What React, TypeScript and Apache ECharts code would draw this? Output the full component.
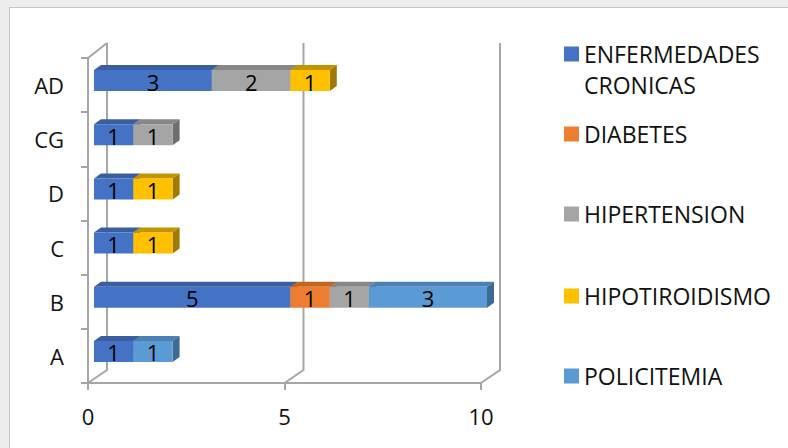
import React, { useEffect, useRef } from 'react';
import * as echarts from 'echarts';

// ---- data ----
const categories = ['A', 'B', 'C', 'D', 'CG', 'AD'];
const seriesNames = ['ENFERMEDADES CRONICAS', 'DIABETES', 'HIPERTENSION', 'HIPOTIROIDISMO', 'POLICITEMIA'];
const enfermedadesCronicas = [1, 5, 1, 1, 1, 3];
const diabetes = [0, 1, 0, 0, 0, 0];
const hipertension = [0, 1, 0, 0, 1, 2];
const hipotiroidismo = [0, 0, 1, 1, 0, 1];
const policitemia = [1, 3, 0, 0, 0, 0];
const xTicks = [0, 5, 10];

const seriesValues = [enfermedadesCronicas, diabetes, hipertension, hipotiroidismo, policitemia];
const frontColors = ['#4472C4', '#ED7D31', '#A5A5A5', '#FFC000', '#5B9BD5'];
const topColors = ['#3A5E9F', '#C2661F', '#878787', '#C49400', '#4A80B2'];
const sideColors = ['#2F4E86', '#A3561C', '#6E6E6E', '#A07A00', '#3D6A93'];

const FONT = "'Open Sans', 'Liberation Sans', sans-serif";
const TEXT = '#111111';
const GRID_COLOR = '#A6A6A6';

// 3D geometry (pixels)
const BACK_DX = 19;
const BACK_DY_BOTTOM = -13;
const BACK_DY_TOP = -15;
const BAR_OX = 6;
const BAR_OY = -4.5;
const BAR_DX = 7;
const BAR_DY = -5;
const BAR_W = 21;

export default function App() {
  const ref = useRef<HTMLDivElement>(null);

  useEffect(() => {
    if (!ref.current) return;
    const chart = echarts.init(ref.current, null, { renderer: 'svg' });

    // stacked bases
    const bases = categories.map(() => 0);
    const barSeries = seriesValues.map((vals, si) => {
      const data: number[][] = [];
      vals.forEach((v, ci) => {
        if (v > 0) {
          data.push([bases[ci], bases[ci] + v, ci, v]);
          bases[ci] += v;
        }
      });
      return {
        type: 'custom',
        name: seriesNames[si],
        z: 5,
        itemStyle: { color: frontColors[si] },
        encode: { x: [0, 1], y: 2 },
        data,
        renderItem: (params: any, api: any) => {
          const start = api.value(0);
          const end = api.value(1);
          const cat = api.value(2);
          const val = api.value(3);
          const p0 = api.coord([start, cat]);
          const p1 = api.coord([end, cat]);
          const x0 = p0[0] + BAR_OX;
          const x1 = p1[0] + BAR_OX;
          const yc = p0[1] + BAR_OY;
          const yt = yc - BAR_W / 2;
          const yb = yc + BAR_W / 2;
          return {
            type: 'group',
            children: [
              {
                type: 'polygon',
                shape: { points: [[x0, yt], [x0 + BAR_DX, yt + BAR_DY], [x1 + BAR_DX, yt + BAR_DY], [x1, yt]] },
                style: { fill: topColors[si] },
              },
              {
                type: 'polygon',
                shape: { points: [[x1, yt], [x1 + BAR_DX, yt + BAR_DY], [x1 + BAR_DX, yb + BAR_DY], [x1, yb]] },
                style: { fill: sideColors[si] },
              },
              {
                type: 'rect',
                shape: { x: x0, y: yt, width: x1 - x0, height: BAR_W },
                style: { fill: frontColors[si] },
              },
              {
                type: 'text',
                style: {
                  text: String(val),
                  x: (x0 + x1) / 2,
                  y: yc + 1,
                  align: 'center',
                  verticalAlign: 'middle',
                  fill: '#000000',
                  fontSize: 22,
                  fontFamily: FONT,
                },
              },
            ],
          };
        },
      };
    });

    const gridSeries = {
      type: 'custom',
      name: 'grid3d',
      z: 1,
      silent: true,
      encode: { x: 0 },
      data: xTicks.map((t) => [t]),
      renderItem: (params: any, api: any) => {
        const t = api.value(0);
        const cs = params.coordSys;
        const x = api.coord([t, 0])[0];
        const bottom = cs.y + cs.height;
        const top = cs.y;
        const children: any[] = [
          {
            type: 'polyline',
            shape: {
              points: [
                [x, bottom],
                [x + BACK_DX, bottom + BACK_DY_BOTTOM],
                [x + BACK_DX, top + BACK_DY_TOP],
              ],
            },
            style: { stroke: GRID_COLOR, lineWidth: 2, fill: null },
          },
        ];
        if (t === xTicks[0]) {
          children.push({
            type: 'line',
            shape: { x1: x, y1: top, x2: x + BACK_DX, y2: top + BACK_DY_TOP },
            style: { stroke: GRID_COLOR, lineWidth: 2 },
          });
        }
        return { type: 'group', children };
      },
    };

    const LH = 31;
    const legendCenters = [54, 134, 214, 296, 376];
    const legends = seriesNames.map((name, i) => {
      const isFirst = i === 0;
      return {
        show: true,
        selectedMode: false,
        orient: 'vertical',
        left: 564,
        top: isFirst ? legendCenters[i] - LH * 1.5 : legendCenters[i] - LH / 2,
        padding: 0,
        itemWidth: 15,
        itemHeight: 15,
        icon: 'rect',
        data: [name],
        formatter: (n: string) => (n === 'ENFERMEDADES CRONICAS' ? '\nENFERMEDADES\nCRONICAS' : n),
        textStyle: {
          fontSize: 23,
          fontFamily: FONT,
          color: TEXT,
          lineHeight: LH,
        },
      };
    });

    chart.setOption({
      animation: false,
      color: frontColors,
      legend: legends,
      grid: { left: 88, top: 58, width: 393, height: 325, containLabel: false },
      xAxis: {
        type: 'value',
        min: 0,
        max: 10,
        interval: 5,
        axisLine: { show: true, lineStyle: { color: GRID_COLOR, width: 2 } },
        axisTick: { show: true, length: 7, lineStyle: { color: GRID_COLOR, width: 2 } },
        splitLine: { show: false },
        axisLabel: { fontSize: 22, fontFamily: FONT, color: TEXT, margin: 22 },
      },
      yAxis: {
        type: 'category',
        data: categories,
        axisLine: { show: true, lineStyle: { color: GRID_COLOR, width: 2 } },
        axisTick: { show: true, length: 7, lineStyle: { color: GRID_COLOR, width: 2 } },
        axisLabel: { fontSize: 22, fontFamily: FONT, color: TEXT, margin: 24 },
        splitLine: { show: false },
      },
      series: [gridSeries, ...barSeries],
    } as any);

    return () => chart.dispose();
  }, []);

  return (
    <div
      style={{
        position: 'fixed',
        left: 0,
        top: 0,
        width: 788,
        height: 448,
        background: '#EDEDED',
        overflow: 'hidden',
      }}
    >
      <div
        style={{
          position: 'absolute',
          left: 9,
          top: 7,
          width: 800,
          height: 460,
          background: '#FFFFFF',
          border: '1px solid #C4C4C4',
          boxSizing: 'border-box',
        }}
      />
      <div ref={ref} style={{ position: 'absolute', left: 0, top: 0, width: 788, height: 448 }} />
    </div>
  );
}
